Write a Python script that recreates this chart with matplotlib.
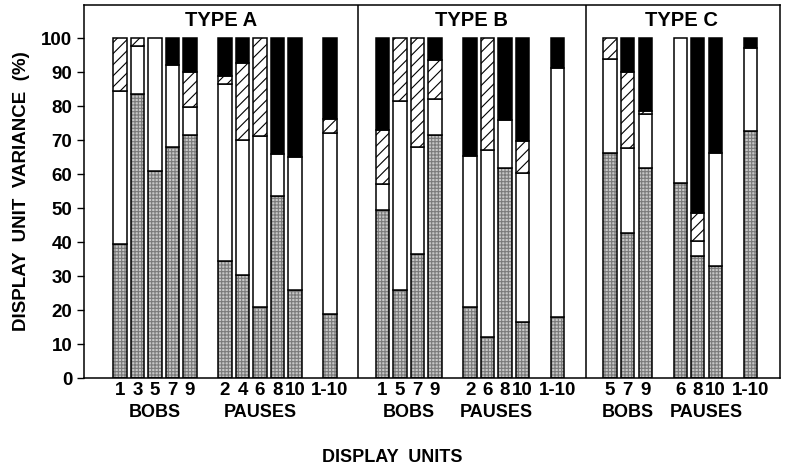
import numpy as np
import matplotlib.pyplot as plt

plt.rcParams['font.family'] = ['Liberation Sans', 'DejaVu Sans']
plt.rcParams['font.weight'] = 'bold'
plt.rcParams['hatch.linewidth'] = 0.8

# ---------------- data (percent of display unit variance) ----------------
types = ["TYPE A", "TYPE B", "TYPE C"]

labels_a = ["1", "3", "5", "7", "9", "2", "4", "6", "8", "10", "1-10"]
n_bobs_a, n_pauses_a = 5, 5
stip_a  = [39.4, 83.5, 61.0, 68.0, 71.5, 34.5, 30.4, 20.8, 53.5, 25.9, 18.8]
white_a = [45.1, 14.1, 39.0, 24.1,  8.1, 52.0, 39.6, 50.5, 12.4, 39.2, 53.2]
hatch_a = [15.5,  2.4,  0.0,  0.0, 10.5,  2.3, 22.7, 28.7,  0.0,  0.0,  4.1]
black_a = [ 0.0,  0.0,  0.0,  7.9,  9.9, 11.2,  7.3,  0.0, 34.1, 34.9, 23.9]

labels_b = ["1", "5", "7", "9", "2", "6", "8", "10", "1-10"]
n_bobs_b, n_pauses_b = 4, 4
stip_b  = [49.4, 25.9, 36.5, 71.6, 20.8, 12.2, 61.7, 16.5, 18.0]
white_b = [ 7.6, 55.7, 31.5, 10.6, 44.5, 55.0, 14.1, 43.7, 73.1]
hatch_b = [16.1, 18.4, 32.0, 11.3,  0.0, 32.8,  0.0,  9.6,  0.0]
black_b = [26.9,  0.0,  0.0,  6.5, 34.7,  0.0, 24.2, 30.2,  8.9]

labels_c = ["5", "7", "9", "6", "8", "10", "1-10"]
n_bobs_c, n_pauses_c = 3, 3
stip_c  = [66.3, 42.8, 61.7, 57.4, 35.9, 33.0, 72.6]
white_c = [27.4, 24.9, 16.1, 42.6,  4.5, 33.3, 24.6]
hatch_c = [ 6.3, 22.3,  0.7,  0.0,  8.0,  0.0,  0.0]
black_c = [ 0.0, 10.0, 21.5,  0.0, 51.6, 33.7,  2.8]

groups = [
    (labels_a, n_bobs_a, n_pauses_a, stip_a, white_a, hatch_a, black_a),
    (labels_b, n_bobs_b, n_pauses_b, stip_b, white_b, hatch_b, black_b),
    (labels_c, n_bobs_c, n_pauses_c, stip_c, white_c, hatch_c, black_c),
]

# ---------------- plot ----------------
fig = plt.figure(figsize=(7.85, 4.72), dpi=100)
ax = fig.add_axes([0.107, 0.199, 0.8866, 0.7903])

width = 0.76
xt, xl = [], []
start = 0
for gi, (labels, nb, npau, st, wh, ha, bl) in enumerate(groups):
    bob_x = start + np.arange(nb)
    pau_x = bob_x[-1] + 2 + np.arange(npau)
    all_x = pau_x[-1] + 2
    x = np.concatenate([bob_x, pau_x, [all_x]])

    st, wh, ha, bl = map(np.array, (st, wh, ha, bl))
    b1 = st
    b2 = st + wh
    b3 = st + wh + ha
    # stippled part
    ax.bar(x, st, width, color="#c6c6c6", edgecolor="#7a7a7a", hatch="+++++", linewidth=0)
    ax.bar(x, st, width, fill=False, edgecolor="black", linewidth=1.1)
    # white part
    ax.bar(x, wh, width, bottom=b1, color="white", edgecolor="black", linewidth=1.1)
    # diagonal hatched part
    m = ha > 0
    ax.bar(x[m], ha[m], width, bottom=b2[m], color="white", edgecolor="black",
           hatch="///", linewidth=0)
    ax.bar(x[m], ha[m], width, bottom=b2[m], fill=False, edgecolor="black", linewidth=1.1)
    # black part
    m = bl > 0
    ax.bar(x[m], bl[m], width, bottom=b3[m], color="black", edgecolor="black", linewidth=1.1)

    xt.extend(x)
    xl.extend(labels)

    # panel title and group labels
    left = start - 2.05 if gi == 0 else start - 1.4
    right = all_x + 1.6 if gi < 2 else all_x + 1.55
    ax.text((left + right) / 2, 105.2, types[gi], ha="center", va="center",
            fontsize=14.5, fontweight="bold")
    ax.text(bob_x.mean(), -10, "BOBS", ha="center", va="center",
            fontsize=13, fontweight="bold")
    ax.text(pau_x.mean() + (0.5 if gi == 2 else 0), -10, "PAUSES", ha="center",
            va="center", fontsize=13, fontweight="bold")
    if gi < 2:
        ax.axvline(all_x + 1.6, color="black", linewidth=1.1)
    start = all_x + 3

ax.set_xlim(-2.05, 37.7)
ax.set_ylim(0, 109.7)
ax.set_yticks(np.arange(0, 101, 10))
ax.tick_params(axis="y", direction="out", length=5, width=1, labelsize=13.5)
ax.set_xticks(xt)
ax.set_xticklabels(xl, fontsize=13.5, fontweight="bold")
ax.tick_params(axis="x", length=0, pad=3)
for lab in ax.get_yticklabels():
    lab.set_fontweight("bold")
for sp in ax.spines.values():
    sp.set_linewidth(1.1)

ax.set_ylabel("DISPLAY  UNIT  VARIANCE  (%)", fontsize=13.5, fontweight="bold", labelpad=8)
fig.text(0.5, 0.03, "DISPLAY  UNITS", ha="center", va="center", fontsize=13,
         fontweight="bold")

fig.savefig("out.png", dpi=100)
